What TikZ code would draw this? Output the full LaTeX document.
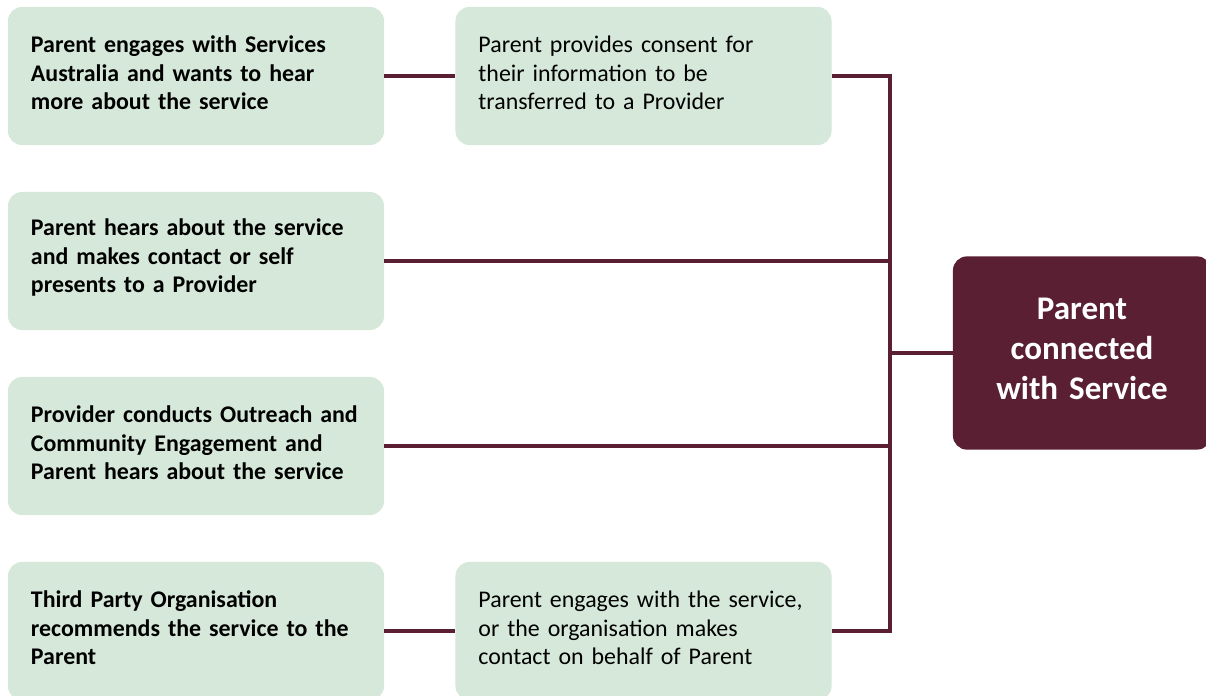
\documentclass[tikz,border=0pt]{standalone}
\usepackage{fontspec}
\setmainfont{Carlito}
\usetikzlibrary{positioning,calc}
\definecolor{boxgreen}{HTML}{D5E8D9}
\definecolor{wine}{HTML}{5B1F34}

\begin{document}
\begin{tikzpicture}[x=0.025cm,y=-0.025cm]
\tikzstyle{every node}=[rounded corners=0.35cm,inner sep=0pt]
\tikzstyle{stepbox}=[fill=boxgreen,minimum width=9.4cm,minimum height=3.45cm,
	text width=8.25cm,align=left,font=\fontsize{17}{20.3}\selectfont,
	execute at end node={\endgraf\vspace*{0.16cm}}]
\tikzstyle{goalbox}=[fill=wine,text=white,minimum width=6.45cm,minimum height=4.83cm,
	text width=5.6cm,align=center,font=\fontsize{23.5}{28.5}\selectfont\bfseries,
	execute at end node={\endgraf\vspace*{0.22cm}}]
\tikzstyle{link}=[draw=wine,line width=2.7pt]
\useasboundingbox (0,0) rectangle (1206,696);
% sources on the left
\node[stepbox,font=\fontsize{17}{20.3}\selectfont\bfseries] (src1) at (196,76) {Parent engages with Services\\ Australia and wants to hear\\ more about the service};
\node[stepbox,font=\fontsize{17}{20.3}\selectfont\bfseries] (src2) at (196,261) {Parent hears about the service\\ and makes contact or self\\ presents to a Provider};
\node[stepbox,font=\fontsize{17}{20.3}\selectfont\bfseries] (src3) at (196,446) {Provider conducts Outreach and\\ Community Engagement and\\ Parent hears about the service};
\node[stepbox,font=\fontsize{17}{20.3}\selectfont\bfseries] (src4) at (196,631) {Third Party Organisation\\ recommends the service to the\\ Parent};
% middle steps
\node[stepbox] (mid1) at (643.5,76) {Parent provides consent for\\ their information to be\\ transferred to a Provider};
\node[stepbox] (mid4) at (643.5,631) {Parent engages with the service,\\ or the organisation makes\\ contact on behalf of Parent};
% outcome
\node[goalbox] (goal) at (1082,353) {Parent\\ connected\\ with Service};
\coordinate (busbot) at (890,631);
\draw[link] (src1.east) -- (mid1.west);
\draw[link] (src4.east) -- (mid4.west);
\draw[link] (mid1.east) -| (busbot) -- (mid4.east);
\draw[link] (src2.east) -- (src2.east -| busbot);
\draw[link] (src3.east) -- (src3.east -| busbot);
\draw[link] (goal.west) -- (goal.west -| busbot);
\end{tikzpicture}
\end{document}
